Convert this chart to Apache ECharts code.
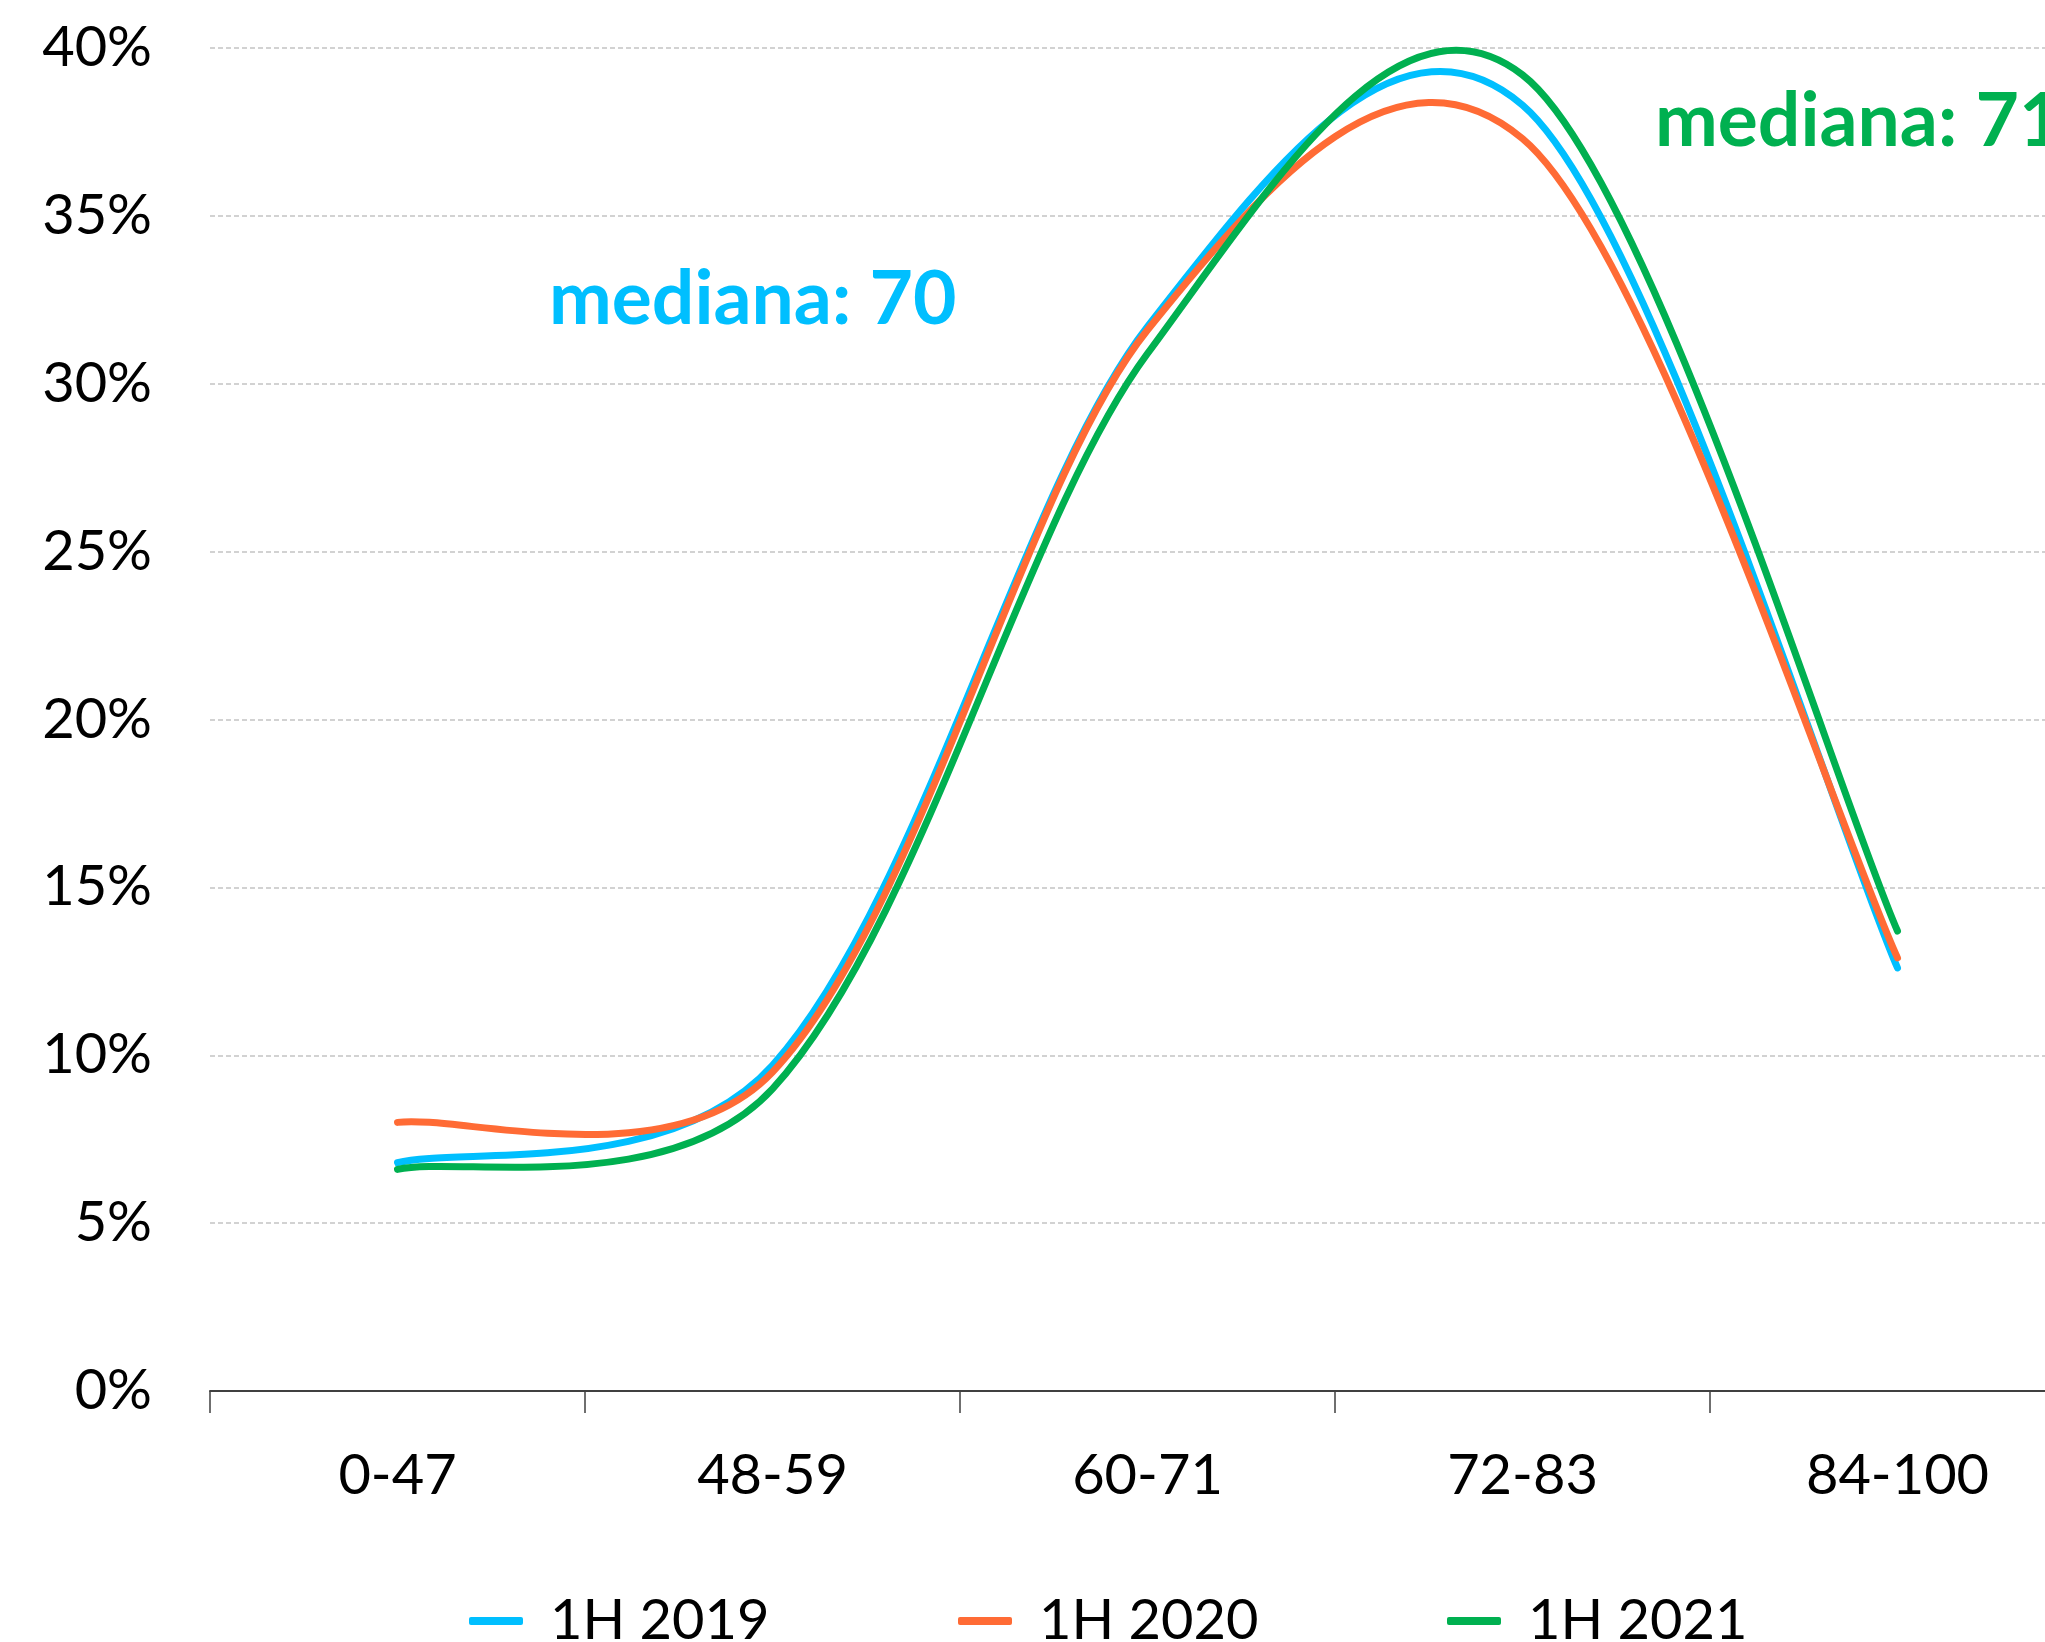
<!DOCTYPE html>
<html>
<head>
<meta charset="utf-8">
<script src="https://cdn.jsdelivr.net/npm/echarts@6/dist/echarts.min.js"></script>
<style>
html,body{margin:0;padding:0;background:#fff;overflow:hidden;}
#chart{width:2085px;height:1642px;}
</style>
</head>
<body>
<div id="chart"></div>
<script>
const categories = ['0-47', '48-59', '60-71', '72-83', '84-100'];
const seriesNames = ['1H 2019', '1H 2020', '1H 2021'];
const values2019 = [6.8, 9.7, 31.7, 38.3, 12.6];
const values2020 = [8.0, 9.5, 31.6, 37.3, 12.9];
const values2021 = [6.6, 9.0, 30.9, 39.2, 13.7];
const yTicks = [0, 5, 10, 15, 20, 25, 30, 35, 40];
const annotations = ['mediana: 70', 'mediana: 71'];

const colors = ['#00BFFF', '#FF6B35', '#00B050'];
const font = 'Lato';

const chart = echarts.init(document.getElementById('chart'));

// Smooth line drawn through the axis scales (api.coord); spreadsheet-style
// Catmull-Rom bezier, with segment-length weighting of the tangent at the 2nd point.
const tangentWeight = [0, 0.5, 0, 0, 0];
function mkSeries(name, values, color) {
  const data = values.map((v, i) => [i, v]);
  return {
    name: name,
    type: 'custom',
    data: data,
    itemStyle: { color: color },
    encode: { x: 0, y: 1 },
    silent: true,
    animation: false,
    renderItem: function (params, api) {
      if (params.dataIndex !== 0) return;
      const pts = data.map(d => api.coord(d));
      const n = pts.length;
      const f = 1 / 6;
      const dist = (a, b) => Math.hypot(a[0] - b[0], a[1] - b[1]);
      const tin = [], tout = [];
      for (let i = 0; i < n; i++) {
        const prev = pts[Math.max(0, i - 1)];
        const next = pts[Math.min(n - 1, i + 1)];
        const vx = next[0] - prev[0], vy = next[1] - prev[1];
        let fin = f, fout = f;
        const k = tangentWeight[i] || 0;
        if (k && i > 0 && i < n - 1) {
          const lp = dist(pts[i], prev), ln = dist(pts[i], next);
          const rp = lp / (lp + ln), rn = ln / (lp + ln);
          fin = f * (1 + k * (2 * rp - 1));
          fout = f * (1 + k * (2 * rn - 1));
        }
        tin.push([vx * fin, vy * fin]);
        tout.push([vx * fout, vy * fout]);
      }
      let d = 'M' + pts[0][0] + ' ' + pts[0][1];
      for (let i = 0; i < n - 1; i++) {
        const p1 = pts[i], p2 = pts[i + 1];
        const c1x = p1[0] + tout[i][0], c1y = p1[1] + tout[i][1];
        const c2x = p2[0] - tin[i + 1][0], c2y = p2[1] - tin[i + 1][1];
        d += ' C' + c1x + ' ' + c1y + ' ' + c2x + ' ' + c2y + ' ' + p2[0] + ' ' + p2[1];
      }
      return {
        type: 'path',
        shape: { pathData: d },
        style: { fill: null, stroke: color, lineWidth: 7, lineCap: 'round', lineJoin: 'round' }
      };
    }
  };
}

function mkLegend(name, left) {
  return {
    data: [{ name: name, icon: 'roundRect', itemStyle: { color: colors[seriesNames.indexOf(name)] } }],
    left: left,
    top: 1591,
    padding: 0,
    itemWidth: 54,
    itemHeight: 8,
    textStyle: { fontFamily: font, fontSize: 56, color: '#000', lineHeight: 60, padding: [0, 0, 0, 22] },
    selectedMode: false
  };
}

chart.setOption({
  backgroundColor: '#fff',
  animation: false,
  grid: { left: 210, right: 0, top: 48, bottom: 251, containLabel: false },
  xAxis: {
    type: 'category',
    data: categories,
    boundaryGap: true,
    axisLine: { show: true, lineStyle: { color: '#404040', width: 2 } },
    axisTick: { show: true, length: 22, lineStyle: { color: '#404040', width: 1.5 } },
    axisLabel: { fontFamily: font, fontSize: 56, color: '#000', margin: 57 },
    splitLine: { show: false }
  },
  yAxis: {
    type: 'value',
    min: yTicks[0],
    max: yTicks[yTicks.length - 1],
    interval: 5,
    axisLine: { show: false },
    axisTick: { show: false },
    axisLabel: { fontFamily: font, fontSize: 56, color: '#000', margin: 58, formatter: v => v + '%' },
    splitLine: { show: true, lineStyle: { color: '#c4c4c4', width: 1.5, type: [5, 3] } }
  },
  legend: [
    mkLegend(seriesNames[0], 469),
    mkLegend(seriesNames[1], 958),
    mkLegend(seriesNames[2], 1447)
  ],
  graphic: [
    { type: 'text', left: 549, top: 262, silent: true,
      style: { text: annotations[0], fill: colors[0], font: 'bold 75px Lato' } },
    { type: 'text', left: 1655, top: 84, silent: true,
      style: { text: annotations[1], fill: colors[2], font: 'bold 75px Lato' } }
  ],
  series: [
    mkSeries(seriesNames[0], values2019, colors[0]),
    mkSeries(seriesNames[1], values2020, colors[1]),
    mkSeries(seriesNames[2], values2021, colors[2])
  ]
});
</script>
</body>
</html>
